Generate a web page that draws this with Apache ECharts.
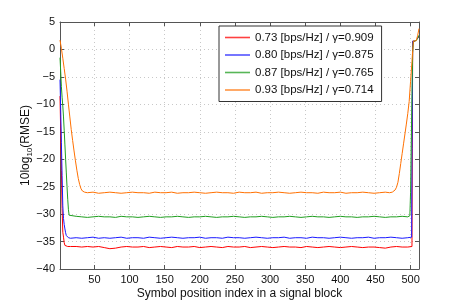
<!DOCTYPE html>
<html><head><meta charset="utf-8">
<script src="https://cdn.jsdelivr.net/npm/echarts@6/dist/echarts.min.js"></script>
<style>html,body{margin:0;padding:0;background:#fff}#c{width:463px;height:305px}</style>
</head><body><div id="c"></div>
<script>
const seriesNames = [
  '0.73 [bps/Hz] / \u03b3=0.909',
  '0.80 [bps/Hz] / \u03b3=0.875',
  '0.87 [bps/Hz] / \u03b3=0.765',
  '0.93 [bps/Hz] / \u03b3=0.714'
];
const xTickValues = [50,100,150,200,250,300,350,400,450,500];

const redData = [[1,-8.5],[2,-15],[3,-22],[4,-29],[5,-33.3],[6,-34.2],[7,-35.2],[8,-35.7],[10,-35.9],[12,-35.9],
[16,-35.9],[24,-35.9],[32,-36.0],[40,-35.9],[48,-36.0],[56,-35.9],[64,-36.1],[72,-36.3],[80,-36.2],[88,-36.0],[96,-35.9],
[104,-36.0],[112,-36.0],[120,-35.9],[128,-36.1],[136,-36.0],[144,-35.9],[152,-36.0],[160,-36.1],[168,-35.9],[176,-36.0],
[184,-36.0],[192,-35.9],[200,-36.1],[208,-36.0],[216,-35.9],[224,-36.0],[232,-36.1],[240,-35.9],[248,-36.0],[256,-36.0],
[264,-35.9],[272,-36.1],[280,-36.0],[288,-35.9],[296,-36.0],[304,-36.1],[312,-36.0],[320,-35.9],[328,-36.0],[336,-36.0],
[344,-36.1],[352,-35.9],[360,-36.0],[368,-36.1],[376,-36.0],[384,-35.9],[392,-36.0],[400,-36.1],[408,-36.0],[416,-35.9],
[424,-36.0],[432,-36.1],[440,-36.0],[448,-36.0],[456,-36.1],[464,-36.2],[472,-36.0],[480,-35.9],[488,-36.0],[496,-36.0],
[502,-35.9],[502.5,-18],[503,1.5],[506,1.5],[508,1.6],[510,2.0],[512,2.4]];

const blueData = [[1,-5.5],[2,-11],[3,-17],[4,-23],[5,-28.5],[6,-30.8],[7,-31.9],[8,-32.7],[9,-33.4],[10,-33.9],[11,-34.2],[13,-34.3],
[16,-34.4],[24,-34.3],[32,-34.4],[40,-34.3],[48,-34.2],[56,-34.4],[64,-34.3],[72,-34.4],[80,-34.3],[88,-34.2],[96,-34.4],
[104,-34.3],[112,-34.3],[120,-34.4],[128,-34.2],[136,-34.3],[144,-34.4],[152,-34.3],[160,-34.2],[168,-34.3],[176,-34.4],
[184,-34.3],[192,-34.3],[200,-34.2],[208,-34.4],[216,-34.3],[224,-34.3],[232,-34.4],[240,-34.2],[248,-34.3],[256,-34.3],
[264,-34.4],[272,-34.3],[280,-34.2],[288,-34.3],[296,-34.4],[304,-34.3],[312,-34.3],[320,-34.2],[328,-34.4],[336,-34.3],
[344,-34.3],[352,-34.4],[360,-34.2],[368,-34.3],[376,-34.3],[384,-34.4],[392,-34.3],[400,-34.2],[408,-34.3],[416,-34.4],
[424,-34.3],[432,-34.3],[440,-34.2],[448,-34.4],[456,-34.3],[464,-34.3],[472,-34.2],[480,-34.3],[488,-34.4],[496,-34.3],
[501.5,-34.2],[502,-20],[503,1.5],[506,1.5],[508,1.6],[510,2.0],[512,2.5]];

const greenData = [[1,-1.5],[2,-4],[3,-6.8],[4,-8.7],[5,-10.3],[6,-12.3],[7,-14.8],[8,-17.4],[9,-20],[10,-22.5],[11,-25],[12,-27.3],[13,-29.2],[14,-30.2],[15,-30.5],
[16,-30.5],[24,-30.4],[32,-30.5],[40,-30.6],[48,-30.5],[56,-30.4],[64,-30.5],[72,-30.5],[80,-30.6],[88,-30.4],[96,-30.5],
[104,-30.5],[112,-30.6],[120,-30.5],[128,-30.4],[136,-30.5],[144,-30.6],[152,-30.5],[160,-30.5],[168,-30.4],[176,-30.5],
[184,-30.6],[192,-30.5],[200,-30.5],[208,-30.4],[216,-30.5],[224,-30.6],[232,-30.5],[240,-30.5],[248,-30.4],[256,-30.5],
[264,-30.6],[272,-30.5],[280,-30.5],[288,-30.4],[296,-30.5],[304,-30.6],[312,-30.5],[320,-30.5],[328,-30.4],[336,-30.5],
[344,-30.6],[352,-30.5],[360,-30.4],[368,-30.5],[376,-30.5],[384,-30.6],[392,-30.5],[400,-30.4],[408,-30.5],[416,-30.5],
[424,-30.6],[432,-30.5],[440,-30.5],[448,-30.4],[456,-30.5],[464,-30.6],[472,-30.5],[480,-30.5],[488,-30.4],[496,-30.5],
[499,-30.3],[500,-26],[501,-17],[502,-8],[503,-0.5],[504,1.5],[506,1.5],[508,1.6],[510,2.0],[512,2.6]];

const orangeData = [[1,1.7],[3,0.2],[5,-1.6],[7,-3.5],[9,-5.4],[11,-7.6],[13,-10],[15,-12.3],[17,-14.6],[19,-16.6],[21,-18.5],
[23,-20.3],[25,-22],[27,-23.5],[29,-24.6],[31,-25.4],[33,-25.8],[36,-26.0],
[40,-26.1],[48,-26.0],[56,-26.2],[64,-26.1],[72,-26.0],[80,-26.1],[88,-26.2],[96,-26.1],[104,-26.0],[112,-26.1],[120,-26.1],
[128,-26.2],[136,-26.0],[144,-26.1],[152,-26.1],[160,-26.0],[168,-26.2],[176,-26.1],[184,-26.1],[192,-26.0],[200,-26.1],
[208,-26.2],[216,-26.1],[224,-26.0],[232,-26.1],[240,-26.1],[248,-26.2],[256,-26.0],[264,-26.1],[272,-26.1],[280,-26.0],
[288,-26.2],[296,-26.1],[304,-26.1],[312,-26.0],[320,-26.1],[328,-26.2],[336,-26.1],[344,-26.0],[352,-26.1],[360,-26.1],
[368,-26.2],[376,-26.0],[384,-26.1],[392,-26.1],[400,-26.0],[408,-26.2],[416,-26.1],[424,-26.1],[432,-26.0],[440,-26.1],
[448,-26.2],[456,-26.1],[464,-26.0],[470,-26.1],[474,-26.0],[476,-25.9],[478,-25.6],[480,-25.1],[482,-24.2],[484,-22.6],
[486,-20.8],[488,-19],[490,-17.2],[492,-15.4],[494,-13.6],[496,-11.7],[498,-9.5],[500,-5.8],[502,-2.2],[503,-0.2],[504,1.5],
[506,1.5],[508,1.6],[510,2.5],[512,3.8]];

const colors = ['#ff0000','#1a1aff','#1f9e1f','#ff7000'];
const allData = [redData, blueData, greenData, orangeData];

const fmtY = v => String(v).replace('-', '\u2212');
const gridLine = {show:true, lineStyle:{color:'#c8c8c8', type:[1,3], width:1}};
const axisLineS = {show:true, onZero:false, lineStyle:{color:'#555', width:1}};
const chart = echarts.init(document.getElementById('c'), null, {renderer:'canvas'});
chart.setOption({
  animation:false,
  textStyle:{fontFamily:'Liberation Sans, Arial, sans-serif'},
  grid:{left:60, right:44, top:22, bottom:33, containLabel:false},
  legend:{
    show:true, orient:'vertical', left:219, top:26,
    data:seriesNames.map((n,i)=>({name:n, icon:'rect', itemStyle:{color:colors[i], opacity:0.75}})),
    itemWidth:25, itemHeight:1.6, itemGap:4.5,
    padding:[5,8,5,6],
    borderColor:'#333', borderWidth:1, backgroundColor:'#fff',
    textStyle:{fontSize:11.5, color:'#111', lineHeight:13, fontFamily:'Liberation Sans, Arial, sans-serif'}
  },
  xAxis:[{
    type:'value', min:1, max:512, position:'bottom',
    name:'Symbol position index in a signal block', nameLocation:'middle', nameGap:19, nameMoveOverlap:false,
    nameTextStyle:{fontSize:12, color:'#111'},
    axisLine:axisLineS,
    axisTick:{show:true, inside:true, length:4, customValues:xTickValues, lineStyle:{color:'#555'}},
    axisLabel:{show:true, customValues:xTickValues, fontSize:11, color:'#111', margin:5},
    splitLine:gridLine
  },{
    type:'value', min:1, max:512, position:'top',
    axisLine:axisLineS,
    axisTick:{show:true, inside:true, length:4, customValues:xTickValues, lineStyle:{color:'#555'}},
    axisLabel:{show:false}, splitLine:{show:false}
  }],
  yAxis:[{
    type:'value', min:-40, max:5, interval:5, position:'left',
    name:'10log{s|10}(RMSE)', nameLocation:'middle', nameGap:26, nameRotate:90, nameMoveOverlap:false,
    nameTextStyle:{fontSize:12, color:'#111', rich:{s:{fontSize:8, color:'#111', verticalAlign:'bottom', padding:[8,0,0,0]}}},
    axisLine:axisLineS,
    axisTick:{show:true, inside:true, length:4, lineStyle:{color:'#555'}},
    axisLabel:{fontSize:11, color:'#111', margin:5, formatter:fmtY},
    splitLine:gridLine
  },{
    type:'value', min:-40, max:5, interval:5, position:'right',
    axisLine:axisLineS,
    axisTick:{show:true, inside:true, length:4, lineStyle:{color:'#555'}},
    axisLabel:{show:false}, splitLine:{show:false}
  }],
  series: seriesNames.map((n,i)=>({
    name:n, type:'line', data:allData[i], symbol:'none', showSymbol:false,
    lineStyle:{color:colors[i], width:1}, itemStyle:{color:colors[i]},
    xAxisIndex:0, yAxisIndex:0, z:2+i
  }))
});
</script></body></html>
